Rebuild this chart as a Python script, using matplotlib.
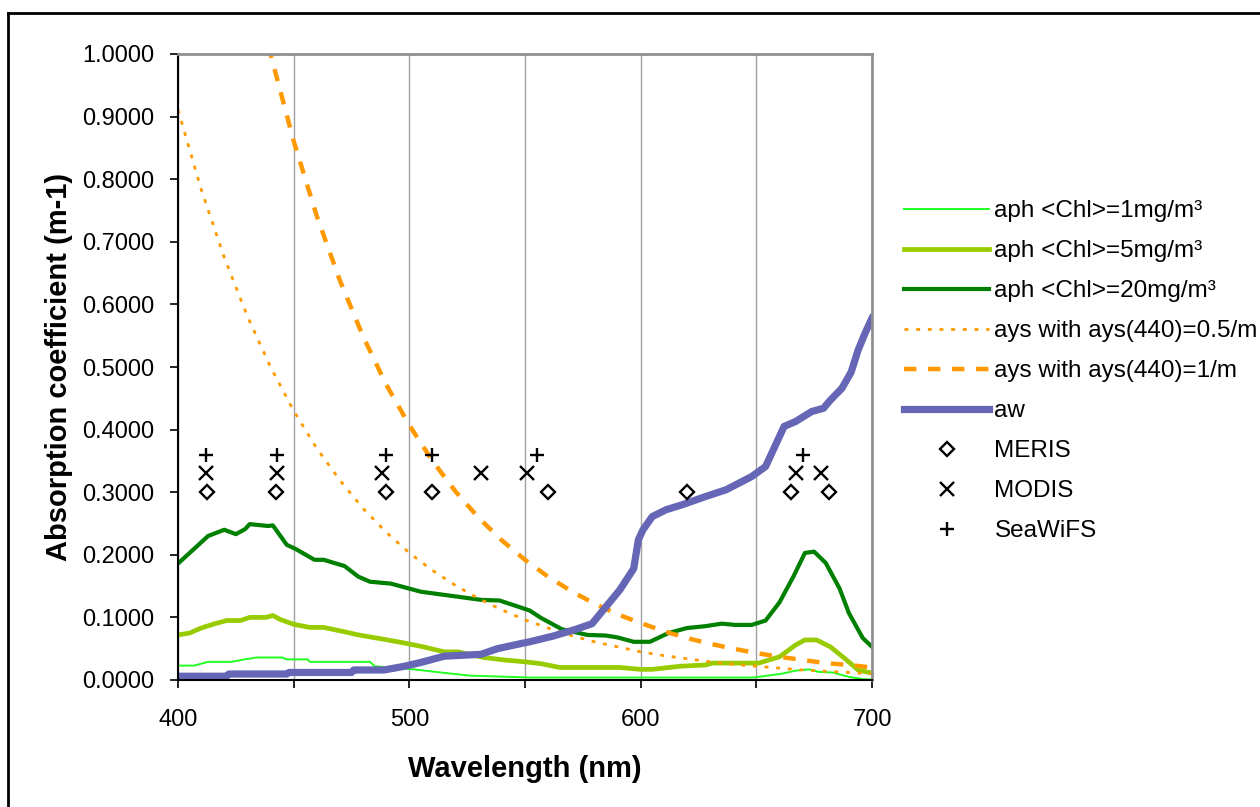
import matplotlib
matplotlib.use("Agg")
import matplotlib.pyplot as plt
from matplotlib.lines import Line2D

plt.rcParams['font.family'] = ['Liberation Sans', 'DejaVu Sans']

# phytoplankton absorption
wl_aph1 = [400, 407, 413, 423, 429, 434, 445, 447, 456, 457, 483, 485, 502, 516, 526,
           552, 649, 661, 667, 673, 677, 683, 690, 697, 700]
aph1 = [0.023, 0.023, 0.029, 0.029, 0.033, 0.036, 0.036, 0.033, 0.033, 0.029, 0.029, 0.022,
        0.017, 0.011, 0.007, 0.004, 0.004, 0.010, 0.015, 0.017, 0.013, 0.012, 0.005, 0.001, 0.001]

wl_aph5 = [400, 405, 410, 416, 421, 427, 431, 438, 441, 444, 450, 457, 463, 472, 478, 489,
           498, 506, 515, 521, 532, 541, 550, 557, 565, 591, 600, 605, 617, 628, 631, 651,
           660, 667, 671, 676, 682, 689, 694, 700]
aph5 = [0.072, 0.075, 0.083, 0.090, 0.095, 0.095, 0.100, 0.100, 0.103, 0.097, 0.089, 0.084,
        0.084, 0.077, 0.072, 0.065, 0.059, 0.053, 0.045, 0.045, 0.036, 0.032, 0.029, 0.026,
        0.020, 0.020, 0.017, 0.017, 0.022, 0.024, 0.027, 0.027, 0.037, 0.056, 0.064, 0.064,
        0.053, 0.032, 0.016, 0.011]

wl_aph20 = [400, 408, 413, 420, 425, 429, 431, 439, 441, 447, 451, 459, 463, 472, 478, 483,
            492, 498, 505, 519, 531, 539, 548, 552, 557, 566, 577, 585, 590, 597, 604, 612,
            620, 628, 635, 641, 648, 654, 660, 666, 671, 675, 680, 686, 690, 696, 700]
aph20 = [0.186, 0.213, 0.230, 0.240, 0.233, 0.241, 0.249, 0.246, 0.247, 0.216, 0.209, 0.192,
         0.192, 0.182, 0.165, 0.157, 0.154, 0.148, 0.141, 0.134, 0.128, 0.127, 0.116, 0.111,
         0.099, 0.081, 0.072, 0.071, 0.068, 0.061, 0.061, 0.075, 0.083, 0.086, 0.090, 0.088,
         0.088, 0.095, 0.124, 0.165, 0.203, 0.205, 0.187, 0.146, 0.107, 0.067, 0.053]

# yellow substance absorption
wl_ays = list(range(400, 701, 10))
ays05 = [0.911, 0.784, 0.675, 0.581, 0.500, 0.430, 0.370, 0.319, 0.274, 0.236, 0.203, 0.175,
         0.151, 0.130, 0.112, 0.096, 0.083, 0.071, 0.061, 0.053, 0.045, 0.039, 0.034, 0.029,
         0.025, 0.022, 0.019, 0.016, 0.014, 0.012, 0.010]
ays1 = [1.822, 1.568, 1.350, 1.162, 1.000, 0.861, 0.741, 0.638, 0.549, 0.472, 0.407, 0.350,
        0.301, 0.259, 0.223, 0.192, 0.165, 0.142, 0.122, 0.105, 0.091, 0.078, 0.067, 0.058,
        0.050, 0.043, 0.037, 0.032, 0.027, 0.024, 0.020]

# pure water absorption
wl_aw = [400, 421, 422, 447, 448, 475, 476, 489, 498, 506, 515, 531, 538, 548, 552, 562, 572,
         579, 585, 591, 597, 599, 601, 605, 611, 618, 628, 637, 648, 654, 658, 662, 667, 674,
         679, 682, 687, 691, 694, 697, 700]
aw = [0.006, 0.006, 0.0096, 0.0096, 0.012, 0.012, 0.016, 0.016, 0.022, 0.029, 0.038, 0.041,
      0.050, 0.058, 0.061, 0.070, 0.081, 0.090, 0.117, 0.144, 0.178, 0.224, 0.240, 0.261,
      0.272, 0.280, 0.293, 0.304, 0.325, 0.341, 0.373, 0.405, 0.413, 0.429, 0.434, 0.447,
      0.466, 0.492, 0.527, 0.554, 0.578]

# sensor bands
meris_bands = [412.5, 442.5, 490, 510, 560, 620, 665, 681.25]
modis_bands = [412, 443, 488, 531, 551, 667, 678]
seawifs_bands = [412, 443, 490, 510, 555, 670]
meris_y, modis_y, seawifs_y = 0.30, 0.33, 0.36

fig = plt.figure(figsize=(12.6, 8.07), dpi=100)
ax = fig.add_axes([178 / 1260, 1 - 680 / 807, 694 / 1260, 626 / 807])

ax.plot(wl_aph1, aph1, color='#22ff22', lw=1.4, label='aph <Chl>=1mg/m³')
ax.plot(wl_aph5, aph5, color='#99cc00', lw=3.4, label='aph <Chl>=5mg/m³')
ax.plot(wl_aph20, aph20, color='#008000', lw=3.0, label='aph <Chl>=20mg/m³')
ax.plot(wl_ays, ays05, color='#ff9900', lw=2.0, dashes=(1.4, 2.8), label='ays with ays(440)=0.5/m')
ax.plot(wl_ays, ays1, color='#ff9900', lw=3.2, dashes=(2.8, 2.6), label='ays with ays(440)=1/m')
ax.plot(wl_aw, aw, color='#6666b6', lw=5.2, label='aw')
ax.plot(meris_bands, [meris_y] * len(meris_bands), ls='none', marker='D', ms=7.5,
        mfc='none', mec='black', mew=1.7, label='MERIS')
ax.plot(modis_bands, [modis_y] * len(modis_bands), ls='none', marker='x', ms=10.5,
        color='black', mew=1.7, label='MODIS')
ax.plot(seawifs_bands, [seawifs_y] * len(seawifs_bands), ls='none', marker='+', ms=10.5,
        color='black', mew=1.7, label='SeaWiFS')

ax.set_xlim(400, 700)
ax.set_ylim(0, 1.0)
ax.set_xticks(range(400, 701, 50))
ax.set_xticklabels(['400', '', '500', '', '600', '', '700'])
ax.set_yticks([i / 10 for i in range(11)])
ax.set_yticklabels(['%.4f' % (i / 10) for i in range(11)])
ax.tick_params(axis='both', direction='out', length=6, width=1.2, labelsize=17, color='black')
ax.tick_params(axis='x', pad=15)
ax.tick_params(axis='y', pad=11)
ax.grid(axis='x', color='#a0a0a0', lw=1)
ax.set_axisbelow(True)

ax.spines['left'].set_color('black')
ax.spines['left'].set_linewidth(1.5)
ax.spines['bottom'].set_color('black')
ax.spines['bottom'].set_linewidth(1.5)
for s in ('top', 'right'):
    ax.spines[s].set_color('#909090')
    ax.spines[s].set_linewidth(2)

ax.set_xlabel('Wavelength (nm)', fontsize=21, fontweight='bold')
ax.xaxis.set_label_coords(0.5, -0.12)
ax.set_ylabel('Absorption coefficient (m-1)', fontsize=21, fontweight='bold')
ax.yaxis.set_label_coords(-0.151, 0.5)

fig.legend(loc='upper left', bbox_to_anchor=(904 / 1260, 1 - 200 / 807), frameon=False,
           fontsize=17.5, handlelength=3.5, handletextpad=0.22, labelspacing=0.74,
           borderpad=0, borderaxespad=0)

# outer chart border
fig.add_artist(Line2D([8 / 1260, 1], [1 - 13 / 807, 1 - 13 / 807], color='black', lw=2))
fig.add_artist(Line2D([8 / 1260, 8 / 1260], [0, 1 - 13 / 807], color='black', lw=2))

fig.savefig('out.png', dpi=100)
